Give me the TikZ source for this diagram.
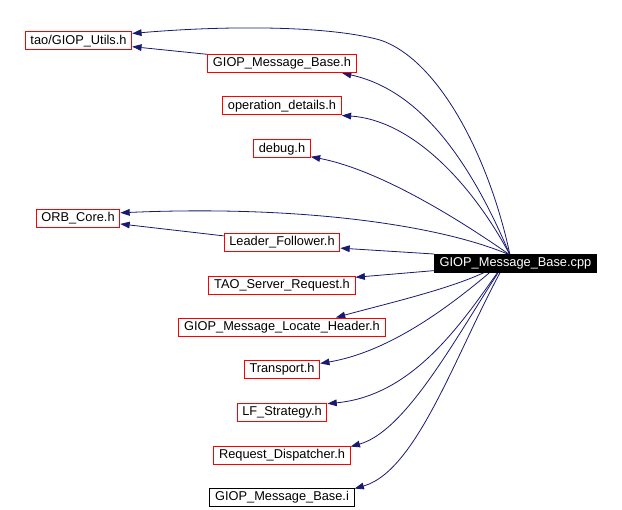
\documentclass[tikz,border=0pt]{standalone}
\usepackage{fontspec}
\setmainfont{Liberation Sans}
\usetikzlibrary{arrows.meta,backgrounds}
\definecolor{edgeblue}{RGB}{25,25,112}
\tikzset{
  header/.style={draw=red, fill=white, line width=0.75pt, inner xsep=3.9pt, inner ysep=0pt,
    minimum height=13.5pt, font=\fontsize{9.6}{11}\selectfont},
  plainhdr/.style={header, draw=black},
  current/.style={header, draw=black, fill=black, text=white},
  incl/.style={draw=edgeblue, line width=0.6pt, -{Triangle[length=7pt,width=5pt]}},
}

\begin{document}
\begin{tikzpicture}[x=0.75pt,y=-0.75pt]
  \useasboundingbox (0,0) rectangle (622,510);
  % Included headers
  \node[header] (utils) at (78.5,41) {tao/GIOP\_Utils.h};
  \node[header] (msgh) at (282,63.5) {GIOP\_Message\_Base.h};
  \node[header] (opdet) at (282,106) {operation\_details.h};
  \node[header] (debug) at (282,149) {debug.h};
  \node[header] (orb) at (78,218) {ORB\_Core.h};
  \node[header] (lf) at (282,242) {Leader\_Follower.h};
  \node[header] (srvreq) at (282,285) {TAO\_Server\_Request.h};
  \node[header] (locate) at (282,327) {GIOP\_Message\_Locate\_Header.h};
  \node[header] (transport) at (282,369.5) {Transport.h};
  \node[header] (lfstrat) at (282,412.5) {LF\_Strategy.h};
  \node[header] (dispatch) at (282,455) {Request\_Dispatcher.h};
  \node[plainhdr] (msgi) at (282,497.5) {GIOP\_Message\_Base.i};

  \node[current] (cpp) at (515.5,263.5) {GIOP\_Message\_Base.cpp};
  \coordinate (hub) at (510,255);

  \begin{scope}[on background layer]
    \draw[incl] (hub) .. controls (490,160) and (440,60) .. (380,40)
                      .. controls (330,26) and (230,25) .. (utils.8);
    \draw[incl] (msgh.173) -- (utils.-6);
    \draw[incl] (hub) .. controls (470,160) and (420,90) .. (msgh.-9);
    \draw[incl] (hub) .. controls (470,180) and (410,120) .. (opdet.-9);
    \draw[incl] (hub) .. controls (460,220) and (380,170) .. (debug.-15);
    \draw[incl] (hub) .. controls (440,225) and (300,205) .. (orb.7);
    \draw[incl] (lf.174) -- (orb.-8);
    \draw[incl] (cpp.north west) -- (lf.-6);
    \draw[incl] (cpp.185) -- (srvreq.6);
    \draw[incl] (hub) .. controls (490,280) and (400,300) .. (locate.10);
    \draw[incl] (hub) .. controls (470,290) and (400,350) .. (transport.9);
    \draw[incl] (hub) .. controls (470,310) and (420,395) .. (lfstrat.11);
    \draw[incl] (hub) .. controls (465,320) and (410,430) .. (dispatch.7);
    \draw[incl] (hub) .. controls (460,340) and (420,470) .. (msgi.7.5);
  \end{scope}
\end{tikzpicture}
\end{document}
